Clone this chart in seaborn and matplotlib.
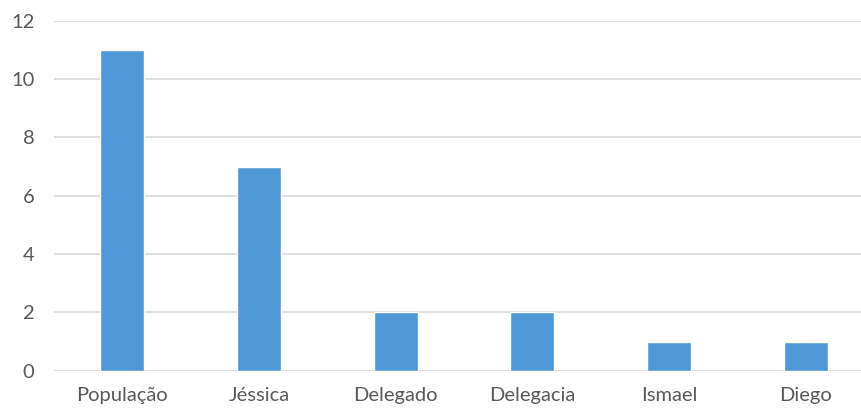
import matplotlib
matplotlib.use("Agg")
import matplotlib.pyplot as plt
import pandas as pd
import seaborn as sns

categorias = ["População", "Jéssica", "Delegado", "Delegacia", "Ismael", "Diego"]
valores = [11, 7, 2, 2, 1, 1]
y_ticks = [0, 2, 4, 6, 8, 10, 12]

sns.set_style("white")
plt.rcParams["font.family"] = ["Lato", "DejaVu Sans"]

df = pd.DataFrame({"nome": categorias, "qtd": valores})

fig = plt.figure(figsize=(8.62, 4.12), dpi=100)
# chart is cropped on the right in the original, so axes run past the edge
ax = fig.add_axes([54 / 862, 0.1002, (874 - 54) / 862, 0.9498 - 0.1002])

sns.barplot(data=df, x="nome", y="qtd", color="#4F98D6", width=0.32,
            saturation=1, ax=ax, zorder=3)

ax.set_ylim(0, 12)
ax.set_yticks(y_ticks)
ax.set_xlim(-0.5, len(categorias) - 0.5)
ax.grid(axis="y", color="#D9D9D9", linewidth=1.2, zorder=0)
ax.set_axisbelow(True)
for s in ax.spines.values():
    s.set_visible(False)
ax.set_xlabel("")
ax.set_ylabel("")
ax.tick_params(axis="both", length=0, labelsize=14.5, colors="#595959")
ax.tick_params(axis="y", pad=14)
ax.tick_params(axis="x", pad=12)

fig.savefig("out.png", dpi=100)
